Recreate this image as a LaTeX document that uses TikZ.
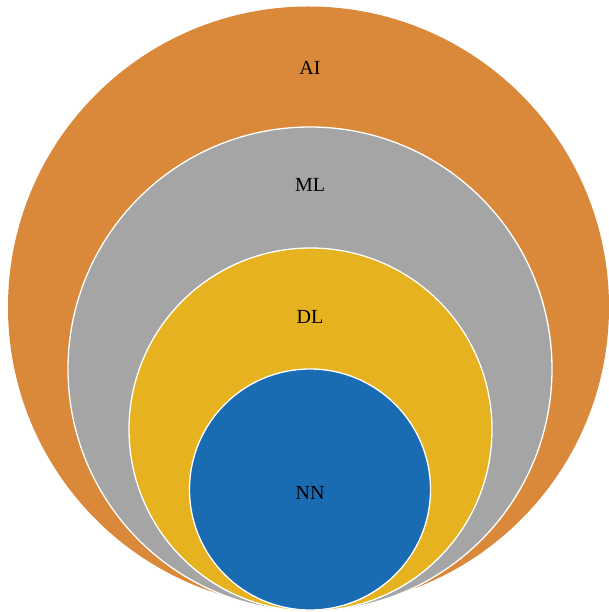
\documentclass[tikz,border=0pt]{standalone}
\usepackage{fontspec}
\setmainfont{Liberation Serif}
\definecolor{aiorange}{RGB}{218,136,58}
\definecolor{mlgray}{RGB}{165,165,165}
\definecolor{dlgold}{RGB}{230,178,32}
\definecolor{nnblue}{RGB}{26,108,178}
\tikzset{
  set/.style={circle, draw=white, line width=1.3pt, inner sep=0pt, outer sep=0pt},
  lbl/.style={anchor=base, inner sep=0pt, font=\fontsize{20}{24}\selectfont, text=black}
}
\begin{document}
\begin{tikzpicture}[x=1pt,y=-1pt]
\useasboundingbox (0,0) rectangle (608,612);
\node[set, fill=aiorange, draw=none, minimum size=601pt] (ai) at (308.5,307) {};
\node[set, fill=mlgray, minimum size=484pt] (ml) at (310,369) {};
\node[set, fill=dlgold, minimum size=363pt] (dl) at (310.5,429.5) {};
\node[set, fill=nnblue, minimum size=241pt] (nn) at (310,489.5) {};
\node[lbl] (tai) at (310,75) {AI};
\node[lbl] (tml) at (310,192) {ML};
\node[lbl] (tdl) at (310,323) {DL};
\node[lbl] (tnn) at (310,499) {NN};
\end{tikzpicture}
\end{document}
